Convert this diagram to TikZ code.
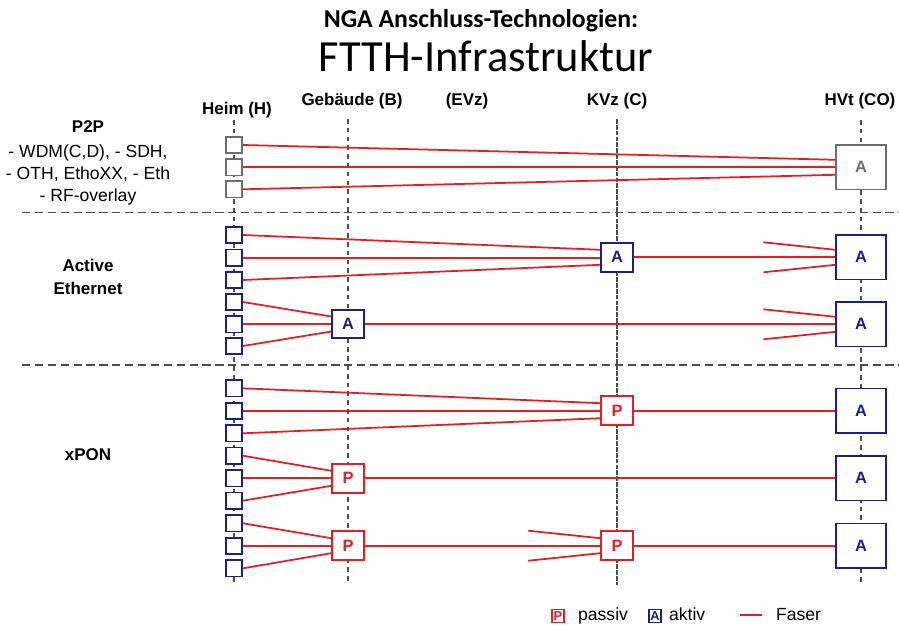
\documentclass[tikz,border=0pt]{standalone}
\usepackage{fontspec}
\setmainfont{Liberation Sans}
\newfontfamily\titlefont{Carlito}
\usetikzlibrary{calc,positioning}
\definecolor{actCol}{HTML}{1E1E8C}
\definecolor{pasCol}{HTML}{E51E25}
\definecolor{p2pCol}{HTML}{6E6E6E}
\definecolor{gridCol}{HTML}{4D4D4D}
\tikzset{
  onu/.style={draw, line width=1.4pt, fill=white, minimum size=0.49cm, inner sep=0pt},
  box/.style={draw, line width=1.6pt, fill=white, minimum width=0.95cm, minimum height=0.86cm,
              inner sep=0pt, font=\fontsize{14}{14}\selectfont\bfseries},
  bigbox/.style={box, minimum width=1.48cm, minimum height=1.33cm},
  akt/.style={draw=actCol, text=actCol},
  pas/.style={draw=pasCol, text=pasCol},
  fiber/.style={pasCol, line width=1.5pt},
  divider/.style={gridCol, line width=1.2pt, dash pattern=on 7pt off 4pt},
  colline/.style={gridCol, line width=1.1pt, dash pattern=on 4pt off 3.5pt},
  kvzline/.style={gridCol, line width=1.6pt, dash pattern=on 4pt off 1pt},
  collbl/.style={font=\fontsize{14.5}{14.5}\selectfont\bfseries, anchor=base},
  sect/.style={font=\fontsize{14.5}{14.5}\selectfont\bfseries, anchor=base},
  sectxt/.style={font=\fontsize{15}{15}\selectfont, anchor=base},
  legbox/.style={draw, line width=1.3pt, fill=white, minimum width=0.36cm, minimum height=0.40cm,
                 inner sep=0pt, font=\fontsize{11}{11}\selectfont\bfseries},
  legtxt/.style={font=\fontsize{15}{15}\selectfont, anchor=base west},
}
% three homes fanned into one box
\newcommand{\fanin}[4]{%
  \draw[fiber] (#1.east) -- ($(#4.west)+(0,-7.5)$);
  \draw[fiber] (#2.east) -- (#2.east -| #4.west);
  \draw[fiber] (#3.east) -- ($(#4.west)+(0,7.5)$);}
% two loose fibers ending at a box
\newcommand{\stubs}[2]{%
  \draw[fiber] ($(#1.west)+(0,-7.5)$) -- ++(-#2,-7.5);
  \draw[fiber] ($(#1.west)+(0,7.5)$) -- ++(-#2,7.5);}

\begin{document}
\begin{tikzpicture}[x=0.03cm, y=-0.03cm]
  \def\H{234}\def\B{348}\def\C{617}\def\CO{861}
  \useasboundingbox (0,0) rectangle (899,626);

  % title
  \node[font=\titlefont\fontsize{22}{22}\selectfont\bfseries, anchor=base] (t1) at (481,28) {NGA Anschluss-Technologien:};
  \node[font=\titlefont\fontsize{38}{38}\selectfont, anchor=base] (t2) at (486,72) {FTTH-Infrastruktur};

  % column heads
  \node[collbl] (hH) at (237,115) {Heim (H)};
  \node[collbl] (hB) at (352,106) {Gebäude (B)};
  \node[collbl] (hE) at (467,106) {(EVz)};
  \node[collbl] (hC) at (617,106) {KVz (C)};
  \node[collbl] (hO) at (860,106) {HVt (CO)};

  % grid
  \draw[colline] (\H,120) -- (\H,583);
  \draw[colline] (\B,119) -- (\B,583);
  \draw[kvzline] (\C,119) -- (\C,585);
  \draw[colline] (\CO,120) -- (\CO,583);
  \draw[divider] (22,212.7) -- (899,212.7);
  \draw[divider] (22,365) -- (899,365);

  % section labels
  \node[sect] (lP2P) at (88,133) {P2P};
  \node[sectxt] (lP2Pa) at (88,158) {- WDM(C,D), - SDH,};
  \node[sectxt] (lP2Pb) at (88,180) {- OTH, EthoXX, - Eth};
  \node[sectxt] (lP2Pc) at (88,202) {- RF-overlay};
  \node[sect] (lAE1) at (88,272) {Active};
  \node[sect] (lAE2) at (88,295) {Ethernet};
  \node[sect] (lPON) at (88,460) {xPON};

  % P2P
  \foreach \y [count=\i] in {145,167.3,189.3}
    \node[onu, draw=p2pCol] (pp\i) at (\H,\y) {};
  \node[bigbox, draw=p2pCol, text=p2pCol] (ppA) at (\CO,167.3) {A};
  \fanin{pp1}{pp2}{pp3}{ppA}

  % Active Ethernet
  \foreach \y [count=\i] in {235,257.7,280,302,324.3,346}
    \node[onu, akt] (ae\i) at (\H,\y) {};
  \node[box, akt] (aeC) at (\C,257.3) {A};
  \node[box, akt] (aeB) at (\B,324) {A};
  \node[bigbox, akt] (aeO1) at (\CO,257.3) {A};
  \node[bigbox, akt] (aeO2) at (\CO,324.3) {A};
  \fanin{ae1}{ae2}{ae3}{aeC}
  \fanin{ae4}{ae5}{ae6}{aeB}
  \draw[fiber] (aeC.east) -- (aeC.east -| aeO1.west);
  \draw[fiber] (aeB.east) -- (aeB.east -| aeO2.west);
  \stubs{aeO1}{72}
  \stubs{aeO2}{72}

  % xPON
  \foreach \y [count=\i] in {388.3,411,433.3,455.7,478.3,500.7,523.3,546,568.3}
    \node[onu, akt] (xp\i) at (\H,\y) {};
  \node[box, pas] (xpC1) at (\C,410.7) {P};
  \node[box, pas] (xpB1) at (\B,478.3) {P};
  \node[box, pas] (xpB2) at (\B,545.7) {P};
  \node[box, pas] (xpC2) at (\C,545.7) {P};
  \node[bigbox, akt] (xpO1) at (\CO,410.7) {A};
  \node[bigbox, akt] (xpO2) at (\CO,478.3) {A};
  \node[bigbox, akt] (xpO3) at (\CO,545.7) {A};
  \fanin{xp1}{xp2}{xp3}{xpC1}
  \fanin{xp4}{xp5}{xp6}{xpB1}
  \fanin{xp7}{xp8}{xp9}{xpB2}
  \draw[fiber] (xpC1.east) -- (xpC1.east -| xpO1.west);
  \draw[fiber] (xpB1.east) -- (xpB1.east -| xpO2.west);
  \draw[fiber] (xpB2.east) -- (xpC2.west);
  \draw[fiber] (xpC2.east) -- (xpO3.west);
  \stubs{xpC2}{72}

  % legend
  \node[legbox, pas] (lgP) at (558,616) {P};
  \node[legtxt] (lgPt) at (574,620) {passiv};
  \node[legbox, akt] (lgA) at (655,616) {A};
  \node[legtxt] (lgAt) at (665,620) {aktiv};
  \coordinate (lgF1) at (740,615);
  \coordinate (lgF2) at (762,615);
  \draw[fiber] (lgF1) -- (lgF2);
  \node[legtxt] (lgFt) at (772,620) {Faser};
\end{tikzpicture}
\end{document}
